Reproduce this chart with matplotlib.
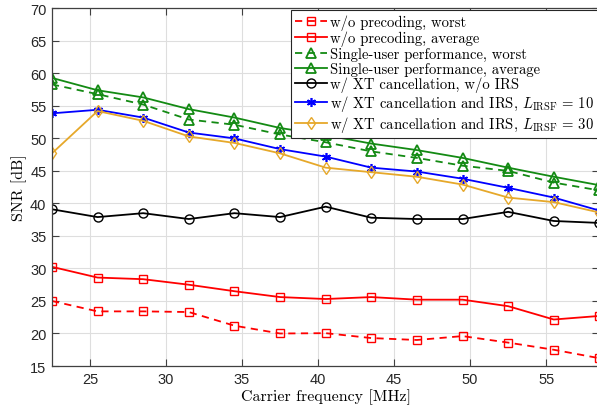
import matplotlib.pyplot as plt
import numpy as np

plt.rcParams['mathtext.fontset'] = 'cm'

# carrier frequencies [MHz] and SNR curves [dB]
freq = [22.5, 25.5, 28.5, 31.5, 34.5, 37.5, 40.5, 43.5, 46.5, 49.5, 52.5, 55.5, 58.5]
noprec_worst = [25.0, 23.4, 23.4, 23.3, 21.2, 20.0, 20.05, 19.3, 19.0, 19.6, 18.6, 17.5, 16.2]
noprec_avg = [30.25, 28.6, 28.35, 27.5, 26.5, 25.6, 25.3, 25.6, 25.2, 25.2, 24.2, 22.15, 22.7]
single_worst = [58.3, 56.8, 55.2, 52.9, 52.1, 50.6, 49.4, 48.0, 47.0, 45.8, 45.0, 43.2, 42.0]
single_avg = [59.3, 57.4, 56.3, 54.5, 53.2, 51.6, 50.5, 49.2, 48.2, 47.0, 45.5, 44.1, 42.8]
xt_noirs = [39.1, 37.9, 38.5, 37.6, 38.5, 37.9, 39.5, 37.8, 37.6, 37.6, 38.7, 37.3, 37.0]
xt_irs10 = [53.85, 54.4, 53.2, 50.9, 50.0, 48.35, 47.2, 45.5, 44.9, 43.8, 42.4, 40.9, 38.9]
xt_irs30 = [47.7, 54.2, 52.7, 50.3, 49.3, 47.7, 45.5, 44.8, 44.1, 42.9, 40.9, 40.2, 38.6]

labels = ['w/o precoding, worst',
          'w/o precoding, average',
          'Single-user performance, worst',
          'Single-user performance, average',
          'w/ XT cancellation, w/o IRS',
          r'w/ XT cancellation and IRS, $L_{\mathrm{IRSF}}\,=\,10$',
          r'w/ XT cancellation and IRS, $L_{\mathrm{IRSF}}\,=\,30$']

red = '#ff0000'
green = '#138a13'
blue = '#0000ff'
gold = '#e6a82a'

fig = plt.figure(figsize=(5.97, 4.14), dpi=100)
ax = fig.add_axes([0.087, 0.1135, 0.917, 0.864])

lw = 1.3
ms = 6.5
ax.plot(freq, noprec_worst, '--s', color=red, lw=lw, ms=ms * 0.85, mfc='none', dashes=(4, 3), label=labels[0])
ax.plot(freq, noprec_avg, '-s', color=red, lw=lw, ms=ms * 0.85, mfc='none', label=labels[1])
ax.plot(freq, single_worst, '--^', color=green, lw=lw, ms=ms, mfc='none', mew=1.3, dashes=(4, 3), label=labels[2])
ax.plot(freq, single_avg, '-^', color=green, lw=lw, ms=ms, mfc='none', mew=1.3, label=labels[3])
ax.plot(freq, xt_noirs, '-o', color='black', lw=lw, ms=ms, mfc='none', label=labels[4])
ax.plot(freq, xt_irs10, '-', marker=(6, 2, 0), color=blue, lw=lw, ms=ms, mew=1.2, label=labels[5])
ax.plot(freq, xt_irs30, '-d', color=gold, lw=lw, ms=ms, mfc='none', label=labels[6])

ax.set_xlim(22.5, 58.5)
ax.set_ylim(15, 70)
ax.set_xticks(np.arange(25, 60, 5))
ax.set_yticks(np.arange(15, 75, 5))
ax.grid(True, color='#dedede', lw=0.8)
ax.set_axisbelow(True)
for s in ax.spines.values():
    s.set_color('#404040')
    s.set_linewidth(0.9)
ax.tick_params(direction='in', top=True, right=True, length=5, color='#404040',
               labelsize=10.5, labelcolor='#262626', pad=4)
for t in ax.get_xticklabels() + ax.get_yticklabels():
    t.set_family('Liberation Sans')

ax.set_xlabel('Carrier frequency [MHz]', family='cmr10', fontsize=11.5, labelpad=2)
ax.set_ylabel('SNR [dB]', family='cmr10', fontsize=11.5, labelpad=2)

leg = ax.legend(loc='upper right', prop={'family': 'cmr10', 'size': 10.6},
                fancybox=False, edgecolor='#262626', framealpha=1,
                handlelength=2.2, handletextpad=0.15, labelspacing=0.06,
                borderpad=0.3, borderaxespad=0.1)
leg.get_frame().set_linewidth(0.8)

fig.savefig('out.png', dpi=100)
